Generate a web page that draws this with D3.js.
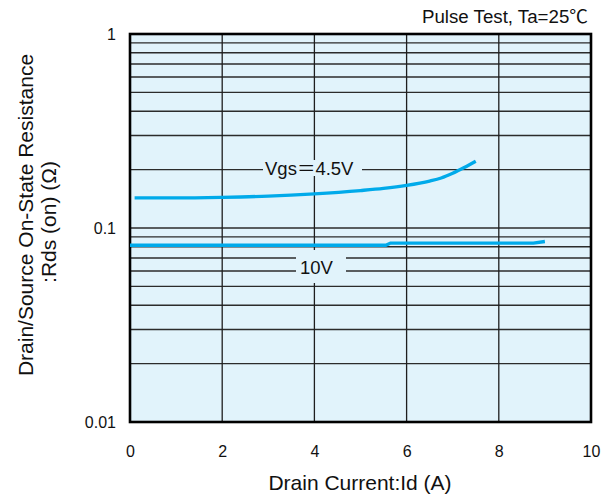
<!DOCTYPE html>
<html>
<head>
<meta charset="utf-8">
<script src="https://cdn.jsdelivr.net/npm/d3@7/dist/d3.min.js"></script>
<style>
  html, body { margin: 0; padding: 0; background: #fff; }
  svg { display: block; }
  text { font-family: "Liberation Sans", Arial, "Noto Sans CJK JP", sans-serif; fill: #111; }
</style>
</head>
<body>
<svg id="chart" width="613" height="497"></svg>
<script>
// ---- data ----
const xTickValues = [0, 2, 4, 6, 8, 10];
const xTickLabels = ["0", "2", "4", "6", "8", "10"];
const yTickValues = [1, 0.1, 0.01];
const yTickLabels = ["1", "0.1", "0.01"];

const id45 = [0.1, 1, 2, 3, 4, 5, 5.5, 6, 6.5, 6.75, 7, 7.25, 7.5];
const rds45 = [0.143, 0.143, 0.144, 0.146, 0.150, 0.156, 0.160, 0.1658, 0.1745, 0.181, 0.1915, 0.205, 0.221];

const id10 = [0, 5.55, 5.65, 8.75, 9.0];
const rds10 = [0.0815, 0.0815, 0.0836, 0.0836, 0.0852];

const seriesLabels = ["Vgs\uFF1D4.5V", "10V"];
const noteText = "Pulse Test, Ta=25\u2103";
const xTitle = "Drain Current:Id (A)";
const yTitle1 = "Drain/Source On-State Resistance";
const yTitle2 = ":Rds (on) (\u03A9)";

// ---- layout ----
const svg = d3.select("#chart");
const pL = 130, pR = 591, pT = 34, pB = 422;
const bg = "#e1f3fb";
const curveColor = "#00aaea";

const x = d3.scaleLinear().domain([0, 10]).range([pL, pR]);
const y = d3.scaleLog().domain([0.01, 1]).range([pB, pT]);

// plot background
svg.append("rect")
  .attr("x", pL).attr("y", pT)
  .attr("width", pR - pL).attr("height", pB - pT)
  .attr("fill", bg);

// horizontal grid (minor + major)
const hGrid = [];
[0.01, 0.1].forEach(dec => {
  for (let k = 1; k <= 9; k++) hGrid.push(dec * k);
});
hGrid.push(1);
svg.append("g").selectAll("line")
  .data(hGrid.filter(v => v > 0.0100001))
  .join("line")
  .attr("x1", pL).attr("x2", pR)
  .attr("y1", d => y(d)).attr("y2", d => y(d))
  .attr("stroke", "#2b2b2b").attr("stroke-width", 1.4);

// vertical grid
svg.append("g").selectAll("line")
  .data(xTickValues.filter(v => v > 0 && v < 10))
  .join("line")
  .attr("x1", d => x(d)).attr("x2", d => x(d))
  .attr("y1", pT).attr("y2", pB)
  .attr("stroke", "#1e1e1e").attr("stroke-width", 1.3);

// label backgrounds (break the grid lines)
const labelG = svg.append("g");
labelG.append("rect").attr("x", 263).attr("y", 160).attr("width", 99).attr("height", 16).attr("fill", bg);
labelG.append("rect").attr("x", 296).attr("y", 250).attr("width", 50).attr("height", 33).attr("fill", bg);

// frame
svg.append("rect")
  .attr("x", pL).attr("y", pT)
  .attr("width", pR - pL).attr("height", pB - pT)
  .attr("fill", "none").attr("stroke", "#000").attr("stroke-width", 2.6);

// curves
const line = d3.line().x(d => x(d[0])).y(d => y(d[1])).curve(d3.curveMonotoneX);
svg.append("path")
  .datum(id45.map((v, i) => [v, rds45[i]]))
  .attr("d", line)
  .attr("fill", "none").attr("stroke", curveColor).attr("stroke-width", 3.3);

const line10 = d3.line().x(d => x(d[0])).y(d => y(d[1])).curve(d3.curveLinear);
svg.append("path")
  .datum(id10.map((v, i) => [v, rds10[i]]))
  .attr("d", line10)
  .attr("fill", "none").attr("stroke", curveColor).attr("stroke-width", 3.3);

// series labels
labelG.append("text").attr("x", 265).attr("y", 175).attr("font-size", 18.5).text(seriesLabels[0]);
labelG.append("text").attr("x", 300).attr("y", 274).attr("font-size", 18.5).text(seriesLabels[1]);

// axes
const xAxis = d3.axisBottom(x).tickValues(xTickValues)
  .tickFormat((d, i) => xTickLabels[i]).tickSize(0).tickPadding(0);
const gx = svg.append("g").attr("transform", `translate(0,${pB})`).call(xAxis);
gx.select(".domain").remove();
gx.selectAll("text").attr("font-size", 16).attr("dy", null).attr("y", 35)
  .style("font-family", "'Liberation Sans', Arial, sans-serif").attr("fill", "#111");

const yAxis = d3.axisLeft(y).tickValues(yTickValues)
  .tickFormat((d, i) => yTickLabels[i]).tickSize(0).tickPadding(0);
const gy = svg.append("g").attr("transform", `translate(${pL - 14},0)`).call(yAxis);
gy.select(".domain").remove();
gy.selectAll("text").attr("font-size", 16).attr("dy", "0.36em")
  .style("font-family", "'Liberation Sans', Arial, sans-serif").attr("fill", "#111");

// titles
svg.append("text").attr("x", 588).attr("y", 23).attr("text-anchor", "end")
  .attr("font-size", 18.7).text(noteText);

svg.append("text").attr("x", 360).attr("y", 490).attr("text-anchor", "middle")
  .attr("font-size", 21).text(xTitle);

svg.append("text").attr("transform", "translate(33,215) rotate(-90)")
  .attr("text-anchor", "middle").attr("font-size", 21).text(yTitle1);
svg.append("text").attr("transform", "translate(56,222) rotate(-90)")
  .attr("text-anchor", "middle").attr("font-size", 21).text(yTitle2);
</script>
</body>
</html>
